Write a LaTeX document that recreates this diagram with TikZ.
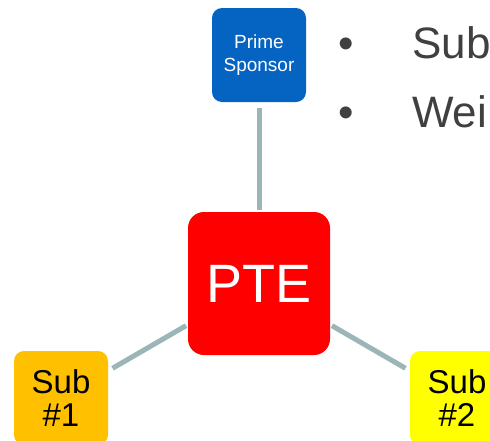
\documentclass[tikz,border=0pt]{standalone}
\usepackage{fontspec}
\setmainfont{Liberation Sans}
\definecolor{primeblue}{HTML}{0563C1}
\definecolor{ptered}{HTML}{FF0000}
\definecolor{suborange}{HTML}{FFC000}
\definecolor{subyellow}{HTML}{FFFF00}
\definecolor{linkgray}{HTML}{9BB5B9}
\definecolor{textgray}{HTML}{404040}
\tikzset{
  box/.style={rounded corners=10pt, inner sep=0pt, align=center,
    minimum width=94pt, minimum height=94pt},
  link/.style={draw=linkgray, line width=5pt},
  bullettext/.style={anchor=base west, inner sep=0pt, text=textgray,
    font=\fontsize{44}{53}\selectfont}
}
\begin{document}
\begin{tikzpicture}[x=1pt,y=-1pt]
\clip (0,0) rectangle (490,440);
\fill[white] (0,0) rectangle (490,440);
\node[box, fill=primeblue, text=white, font=\fontsize{19}{23}\selectfont] (prime) at (259,55) {Prime\\Sponsor};
\node[box, fill=ptered, text=white, rounded corners=16pt, minimum width=142pt, minimum height=143pt,
  font=\fontsize{54}{60}\selectfont] (pte) at (259,283.5) {PTE};
\node[box, fill=suborange, text=black, font=\fontsize{33}{33}\selectfont] (sub1) at (61,398) {Sub\\\#1};
\node[box, fill=subyellow, text=black, font=\fontsize{33}{33}\selectfont] (sub2) at (457,398) {Sub\\\#2};
\draw[link, shorten <=6pt, shorten >=2pt] (prime) -- (pte);
\draw[link, shorten <=2pt, shorten >=5pt] (pte) -- (sub1);
\draw[link, shorten <=2pt, shorten >=5pt] (pte) -- (sub2);
\node[bullettext] (b1) at (338,58) {•};
\node[bullettext] (t1) at (412,58) {Sub};
\node[bullettext] (b2) at (338,127) {•};
\node[bullettext] (t2) at (412,127) {Wei};
\end{tikzpicture}
\end{document}
